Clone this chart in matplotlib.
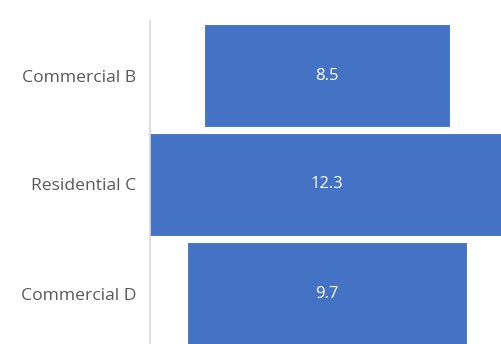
import matplotlib
matplotlib.use("Agg")
import matplotlib.pyplot as plt

categories = ["Commercial B", "Residential C", "Commercial D"]
values = [8.5, 12.3, 9.7]
value_labels = ["8.5", "12.3", "9.7"]

W, H = 501, 344
fig = plt.figure(figsize=(W / 100, H / 100), dpi=100)
plt.rcParams['font.family'] = ['Open Sans', 'DejaVu Sans']

# axes in pixels
ax_left = 150
unit_x = 28.9
half = 6.12
ax_width = 2 * half * unit_x
ax_top = 21
unit_y = 109
ax_height = 3 * unit_y
ax = fig.add_axes([ax_left / W, (H - ax_top - ax_height) / H, ax_width / W, ax_height / H])

ypos = list(range(len(categories)))
lefts = [-v / 2 for v in values]
ax.barh(ypos, values, left=lefts, height=0.94, color="#4472C4",
        edgecolor="#FFFFFF", linewidth=0.8)
for y, lab in zip(ypos, value_labels):
    ax.text(0, y, lab, ha="center", va="center", color="white", fontsize=12)

ax.set_xlim(-half, half)
ax.set_ylim(2.5, -0.5)
ax.set_yticks(ypos)
ax.set_yticklabels(categories, fontsize=12.6, color="#595959")
ax.tick_params(axis="y", length=0, pad=10)
ax.set_xticks([])
for s in ["top", "right", "bottom"]:
    ax.spines[s].set_visible(False)
ax.spines["left"].set_color("#D9D9D9")
ax.spines["left"].set_linewidth(1.2)

fig.savefig("out.png", dpi=100)
